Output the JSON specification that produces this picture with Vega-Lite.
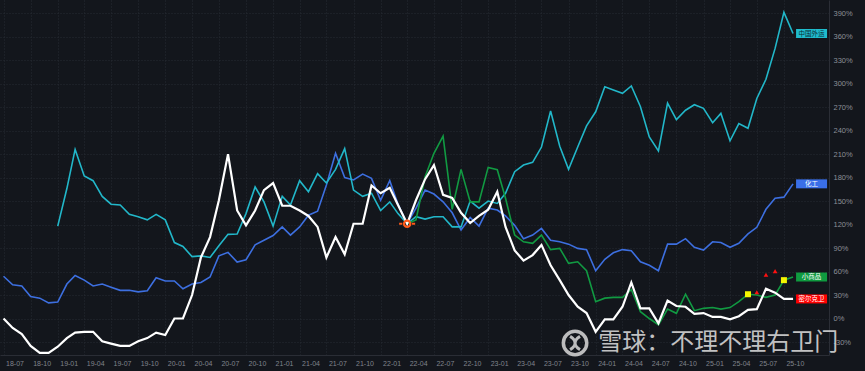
{
  "$schema": "https://vega.github.io/schema/vega-lite/v6.json",
  "width": 829,
  "height": 355,
  "autosize": {"type": "none"},
  "padding": {"left": 0, "top": 0, "right": 36, "bottom": 16},
  "background": "#13161c",
  "config": {
    "view": {"stroke": null},
    "font": "Liberation Sans"
  },
  "datasets": {
    "series": [
      {"d":"2018-07-01","化工":54,"密尔克卫":0},
      {"d":"2018-08-01","化工":43,"密尔克卫":-12},
      {"d":"2018-09-01","化工":41.5,"密尔克卫":-20},
      {"d":"2018-10-01","化工":28,"密尔克卫":-35},
      {"d":"2018-11-01","化工":26,"密尔克卫":-44},
      {"d":"2018-12-01","化工":20,"密尔克卫":-44},
      {"d":"2019-01-01","中国外运":118,"化工":21,"密尔克卫":-36},
      {"d":"2019-02-01","中国外运":166,"化工":44,"密尔克卫":-25},
      {"d":"2019-03-01","中国外运":216,"化工":55,"密尔克卫":-18},
      {"d":"2019-04-01","中国外运":182,"化工":49,"密尔克卫":-17},
      {"d":"2019-05-01","中国外运":176,"化工":41.5,"密尔克卫":-17},
      {"d":"2019-06-01","中国外运":156,"化工":44,"密尔克卫":-29},
      {"d":"2019-07-01","中国外运":146,"化工":40,"密尔克卫":-32},
      {"d":"2019-08-01","中国外运":145,"化工":36,"密尔克卫":-35},
      {"d":"2019-09-01","中国外运":133,"化工":36,"密尔克卫":-35},
      {"d":"2019-10-01","中国外运":130,"化工":34,"密尔克卫":-29},
      {"d":"2019-11-01","中国外运":126,"化工":35.5,"密尔克卫":-25},
      {"d":"2019-12-01","中国外运":133,"化工":52,"密尔克卫":-18},
      {"d":"2020-01-01","中国外运":126,"化工":48,"密尔克卫":-21},
      {"d":"2020-02-01","中国外运":97,"化工":48,"密尔克卫":0},
      {"d":"2020-03-01","中国外运":92,"化工":38,"密尔克卫":0},
      {"d":"2020-04-01","中国外运":79,"化工":44,"密尔克卫":30},
      {"d":"2020-05-01","中国外运":80,"化工":46,"密尔克卫":78},
      {"d":"2020-06-01","中国外运":78,"化工":53,"密尔克卫":104},
      {"d":"2020-07-01","中国外运":93,"化工":80,"密尔克卫":151},
      {"d":"2020-08-01","中国外运":107.5,"化工":84.5,"密尔克卫":210},
      {"d":"2020-09-01","中国外运":108,"化工":72,"密尔克卫":138},
      {"d":"2020-10-01","中国外运":134,"化工":75,"密尔克卫":119},
      {"d":"2020-11-01","中国外运":168,"化工":94,"密尔克卫":138},
      {"d":"2020-12-01","中国外运":149,"化工":100,"密尔克卫":164},
      {"d":"2021-01-01","中国外运":118,"化工":106,"密尔克卫":173},
      {"d":"2021-02-01","中国外运":156,"化工":117,"密尔克卫":144},
      {"d":"2021-03-01","中国外运":145,"化工":106.6,"密尔克卫":144},
      {"d":"2021-04-01","中国外运":176,"化工":117,"密尔克卫":138},
      {"d":"2021-05-01","中国外运":162,"化工":132,"密尔克卫":131},
      {"d":"2021-06-01","中国外运":185,"化工":137,"密尔克卫":117},
      {"d":"2021-07-01","中国外运":173,"化工":170.5,"密尔克卫":78},
      {"d":"2021-08-01","中国外运":190.5,"化工":211,"密尔克卫":104},
      {"d":"2021-09-01","中国外运":217,"化工":180,"密尔克卫":82},
      {"d":"2021-10-01","中国外运":164,"化工":177,"密尔克卫":121},
      {"d":"2021-11-01","中国外运":156,"化工":184.5,"密尔克卫":121},
      {"d":"2021-12-01","中国外运":160,"化工":179,"密尔克卫":170},
      {"d":"2022-01-01","中国外运":138,"化工":151,"密尔克卫":160},
      {"d":"2022-02-01","中国外运":149,"化工":176,"密尔克卫":167},
      {"d":"2022-03-01","中国外运":134,"化工":146,"密尔克卫":145},
      {"d":"2022-04-01","中国外运":121,"化工":121,"小商品":121,"密尔克卫":121},
      {"d":"2022-05-01","中国外运":130,"化工":141,"小商品":126,"密尔克卫":151},
      {"d":"2022-06-01","中国外运":127,"化工":164,"小商品":181,"密尔克卫":178},
      {"d":"2022-07-01","中国外运":130,"化工":159,"小商品":211,"密尔克卫":196},
      {"d":"2022-08-01","中国外运":130,"化工":149,"小商品":233,"密尔克卫":158},
      {"d":"2022-09-01","中国外运":117,"化工":135,"小商品":139.5,"密尔克卫":154},
      {"d":"2022-10-01","中国外运":117,"化工":113,"小商品":190.5,"密尔克卫":135},
      {"d":"2022-11-01","中国外运":150,"化工":129,"小商品":149,"密尔克卫":122},
      {"d":"2022-12-01","中国外运":141,"化工":118,"小商品":149,"密尔克卫":131},
      {"d":"2023-01-01","中国外运":150,"化工":141,"小商品":193,"密尔克卫":139},
      {"d":"2023-02-01","中国外运":147,"化工":138.6,"小商品":190,"密尔克卫":162},
      {"d":"2023-03-01","中国外运":160,"化工":131,"小商品":153.5,"密尔克卫":117},
      {"d":"2023-04-01","中国外运":187.5,"化工":119,"小商品":106.6,"密尔克卫":87},
      {"d":"2023-05-01","中国外运":196,"化工":102,"小商品":98,"密尔克卫":74},
      {"d":"2023-06-01","中国外运":199.5,"化工":106.6,"小商品":96,"密尔克卫":81},
      {"d":"2023-07-01","中国外运":219,"化工":115,"小商品":106.6,"密尔克卫":94},
      {"d":"2023-08-01","中国外运":265,"化工":100,"小商品":88,"密尔克卫":68},
      {"d":"2023-09-01","中国外运":220,"化工":98,"小商品":89.6,"密尔克卫":49},
      {"d":"2023-10-01","中国外运":190.5,"化工":95,"小商品":70.5,"密尔克卫":30},
      {"d":"2023-11-01","中国外运":219,"化工":89.6,"小商品":72.5,"密尔克卫":15},
      {"d":"2023-12-01","中国外运":246,"化工":88,"小商品":61,"密尔克卫":7},
      {"d":"2024-01-01","中国外运":264,"化工":61,"小商品":21.5,"密尔克卫":-17},
      {"d":"2024-02-01","中国外运":296,"化工":75.6,"小商品":26,"密尔克卫":-1},
      {"d":"2024-03-01","中国外运":292,"化工":84,"小商品":27,"密尔克卫":-1},
      {"d":"2024-04-01","中国外运":287.6,"化工":88,"小商品":27,"密尔克卫":15},
      {"d":"2024-05-01","中国外运":297,"化工":86.6,"小商品":37,"密尔克卫":46},
      {"d":"2024-06-01","中国外运":270.5,"化工":72.5,"小商品":8.7,"密尔克卫":13},
      {"d":"2024-07-01","中国外运":232,"化工":68,"小商品":0,"密尔克卫":13},
      {"d":"2024-08-01","中国外运":214,"化工":61,"小商品":-8,"密尔克卫":-6},
      {"d":"2024-09-01","中国外运":275,"化工":95,"小商品":12,"密尔克卫":23},
      {"d":"2024-10-01","中国外运":254,"化工":95,"小商品":6.6,"密尔克卫":16},
      {"d":"2024-11-01","中国外运":266,"化工":102,"小商品":31,"密尔克卫":15},
      {"d":"2024-12-01","中国外运":273,"化工":91,"小商品":10,"密尔克卫":6},
      {"d":"2025-01-01","中国外运":268.5,"化工":87.5,"小商品":13,"密尔克卫":7},
      {"d":"2025-02-01","中国外运":250,"化工":98,"小商品":14,"密尔克卫":2},
      {"d":"2025-03-01","中国外运":262,"化工":97,"小商品":12,"密尔克卫":2},
      {"d":"2025-04-01","中国外运":227,"化工":91,"小商品":14,"密尔克卫":-1},
      {"d":"2025-05-01","中国外运":249,"化工":96,"小商品":21.5,"密尔克卫":3},
      {"d":"2025-06-01","中国外运":243,"化工":108,"小商品":31,"密尔克卫":11},
      {"d":"2025-07-01","中国外运":281,"化工":116.5,"小商品":30,"密尔克卫":12},
      {"d":"2025-08-01","中国外运":305.5,"化工":139.5,"小商品":27,"密尔克卫":38},
      {"d":"2025-09-01","中国外运":345,"化工":153.5,"小商品":30,"密尔克卫":33},
      {"d":"2025-10-01","中国外运":391,"化工":155,"小商品":49,"密尔克卫":25},
      {"d":"2025-11-01","中国外运":364,"化工":172,"小商品":53,"密尔克卫":25}
    ],
    "labels": [
      {"d":"2025-11-01","s":"中国外运","v":364},
      {"d":"2025-11-01","s":"化工","v":172},
      {"d":"2025-11-01","s":"小商品","v":53},
      {"d":"2025-11-01","s":"密尔克卫","v":25}
    ],
    "squares": [
      {"d":"2025-06-01","v":31},
      {"d":"2025-10-01","v":49}
    ],
    "triangles": [
      {"d":"2025-07-01","v":33.5},
      {"d":"2025-08-01","v":56},
      {"d":"2025-09-01","v":60.5}
    ],
    "base": [
      {"d":"2022-04-01","v":121}
    ],
    "watermark": [
      {"t":"雪球：不理不理右卫门"}
    ]
  },
  "layer": [
    {
      "encoding": {
        "x": {
          "field": "d",
          "type": "temporal",
          "scale": {"domain": [{"year":2018,"month":6,"date":19},{"year":2026,"month":3,"date":3}]},
          "axis": {
            "title": null,
            "values": [
              {"year":2018,"month":7,"date":1},{"year":2018,"month":10,"date":1},
              {"year":2019,"month":1,"date":1},{"year":2019,"month":4,"date":1},{"year":2019,"month":7,"date":1},{"year":2019,"month":10,"date":1},
              {"year":2020,"month":1,"date":1},{"year":2020,"month":4,"date":1},{"year":2020,"month":7,"date":1},{"year":2020,"month":10,"date":1},
              {"year":2021,"month":1,"date":1},{"year":2021,"month":4,"date":1},{"year":2021,"month":7,"date":1},{"year":2021,"month":10,"date":1},
              {"year":2022,"month":1,"date":1},{"year":2022,"month":4,"date":1},{"year":2022,"month":7,"date":1},{"year":2022,"month":10,"date":1},
              {"year":2023,"month":1,"date":1},{"year":2023,"month":4,"date":1},{"year":2023,"month":7,"date":1},{"year":2023,"month":10,"date":1},
              {"year":2024,"month":1,"date":1},{"year":2024,"month":4,"date":1},{"year":2024,"month":7,"date":1},{"year":2024,"month":10,"date":1},
              {"year":2025,"month":1,"date":1},{"year":2025,"month":4,"date":1},{"year":2025,"month":7,"date":1},{"year":2025,"month":10,"date":1}
            ],
            "format": "%y-%m",
            "labelAlign": "left",
            "labelBaseline": "top",
            "labelOffset": 2,
            "labelPadding": 4,
            "labelFontSize": 7,
            "labelColor": "#80848c",
            "labelFlush": false,
            "labelOverlap": false,
            "grid": true,
            "gridColor": "#262a33",
            "gridDash": [1, 2],
            "ticks": false,
            "domain": true,
            "domainColor": "#2a2d35"
          }
        },
        "y": {
          "field": "v",
          "type": "quantitative",
          "scale": {"domain": [-46.6, 406.8], "nice": false, "zero": false},
          "axis": {
            "orient": "right",
            "title": null,
            "values": [-30, 0, 30, 60, 90, 120, 150, 180, 210, 240, 270, 300, 330, 360, 390],
            "labelExpr": "datum.value + '%'",
            "labelFontSize": 7.5,
            "labelColor": "#8b8f97",
            "labelPadding": 4,
            "labelOverlap": false,
            "ticks": false,
            "grid": true,
            "gridColor": "#262a33",
            "gridDash": [1, 2],
            "domain": true,
            "domainColor": "#2b2e36"
          }
        }
      },
      "layer": [
        {
          "data": {"name": "series"},
          "transform": [
            {"fold": ["中国外运", "化工", "小商品"], "as": ["s", "v"]},
            {"filter": "isValid(datum.v)"}
          ],
          "mark": {"type": "line", "strokeWidth": 1.6, "interpolate": "linear"},
          "encoding": {
            "color": {
              "field": "s",
              "type": "nominal",
              "legend": null,
              "scale": {"domain": ["中国外运", "化工", "小商品", "密尔克卫"], "range": ["#22b7c9", "#3d6fe0", "#119a42", "#ffffff"]}
            }
          }
        },
        {
          "data": {"name": "series"},
          "transform": [
            {"fold": ["密尔克卫"], "as": ["s", "v"]},
            {"filter": "isValid(datum.v)"}
          ],
          "mark": {"type": "line", "strokeWidth": 2.2, "color": "#ffffff"}
        },
        {
          "data": {"name": "base"},
          "mark": {"type": "point", "shape": "circle", "size": 40, "filled": false, "stroke": "#ff5a1a", "strokeWidth": 2.2, "opacity": 1}
        },
        {
          "data": {"name": "base"},
          "mark": {"type": "point", "shape": "M-1,0L-0.6,0M0.6,0L1,0", "size": 256, "filled": false, "stroke": "#ff5a1a", "strokeWidth": 2, "opacity": 1}
        },
        {
          "data": {"name": "squares"},
          "mark": {"type": "point", "shape": "square", "size": 36, "filled": true, "color": "#f5f500", "opacity": 1}
        },
        {
          "data": {"name": "triangles"},
          "mark": {"type": "point", "shape": "triangle-up", "size": 22, "filled": true, "color": "#ff1010", "opacity": 1}
        },
        {
          "data": {"name": "labels"},
          "mark": {"type": "point", "shape": "M-1,-0.29L1,-0.29L1,0.29L-1,0.29Z", "size": 961, "filled": true, "opacity": 1, "xOffset": 18.5, "strokeWidth": 0},
          "encoding": {
            "fill": {
              "field": "s",
              "type": "nominal",
              "legend": null,
              "scale": {"domain": ["中国外运", "化工", "小商品", "密尔克卫"], "range": ["#1fbccd", "#3a6fe8", "#0f9a3f", "#ff0000"]}
            }
          }
        },
        {
          "data": {"name": "labels"},
          "mark": {"type": "text", "xOffset": 18.5, "fontSize": 6.5, "font": "Noto Sans CJK SC", "align": "center", "baseline": "middle"},
          "encoding": {
            "text": {"field": "s"},
            "color": {"condition": {"test": "datum.s === '中国外运'", "value": "#0c2a33"}, "value": "#ffffff"}
          }
        }
      ]
    },
    {
      "encoding": {
        "x": {
          "datum": 1698019200000,
          "type": "temporal",
          "axis": {
            "title": null,
            "values": [
              {"year":2018,"month":7,"date":1},{"year":2018,"month":10,"date":1},
              {"year":2019,"month":1,"date":1},{"year":2019,"month":4,"date":1},{"year":2019,"month":7,"date":1},{"year":2019,"month":10,"date":1},
              {"year":2020,"month":1,"date":1},{"year":2020,"month":4,"date":1},{"year":2020,"month":7,"date":1},{"year":2020,"month":10,"date":1},
              {"year":2021,"month":1,"date":1},{"year":2021,"month":4,"date":1},{"year":2021,"month":7,"date":1},{"year":2021,"month":10,"date":1},
              {"year":2022,"month":1,"date":1},{"year":2022,"month":4,"date":1},{"year":2022,"month":7,"date":1},{"year":2022,"month":10,"date":1},
              {"year":2023,"month":1,"date":1},{"year":2023,"month":4,"date":1},{"year":2023,"month":7,"date":1},{"year":2023,"month":10,"date":1},
              {"year":2024,"month":1,"date":1},{"year":2024,"month":4,"date":1},{"year":2024,"month":7,"date":1},{"year":2024,"month":10,"date":1},
              {"year":2025,"month":1,"date":1},{"year":2025,"month":4,"date":1},{"year":2025,"month":7,"date":1},{"year":2025,"month":10,"date":1}
            ],
            "format": "%y-%m",
            "labelAlign": "left",
            "labelBaseline": "top",
            "labelOffset": 2,
            "labelPadding": 4,
            "labelFontSize": 7,
            "labelColor": "#80848c",
            "labelFlush": false,
            "labelOverlap": false,
            "grid": true,
            "gridColor": "#262a33",
            "gridDash": [1, 2],
            "ticks": false,
            "domain": true,
            "domainColor": "#2a2d35"
          }
        },
        "y": {
          "datum": -31.3,
          "type": "quantitative",
          "axis": {
            "orient": "right",
            "title": null,
            "values": [-30, 0, 30, 60, 90, 120, 150, 180, 210, 240, 270, 300, 330, 360, 390],
            "labelExpr": "datum.value + '%'",
            "labelFontSize": 7.5,
            "labelColor": "#8b8f97",
            "labelPadding": 4,
            "labelOverlap": false,
            "ticks": false,
            "grid": true,
            "gridColor": "#262a33",
            "gridDash": [1, 2],
            "domain": true,
            "domainColor": "#2b2e36"
          }
        }
      },
      "layer": [
        {
          "data": {"name": "watermark"},
          "mark": {"type": "point", "shape": "circle", "size": 548, "filled": false, "stroke": "#cfcfcf", "strokeWidth": 3.5, "opacity": 0.9}
        },
        {
          "data": {"name": "watermark"},
          "mark": {"type": "point", "shape": "M-0.45,-0.6C0.15,-0.25,0.15,0.25,-0.45,0.6M0.45,-0.6C-0.15,-0.25,-0.15,0.25,0.45,0.6", "size": 484, "filled": false, "stroke": "#cfcfcf", "strokeWidth": 3, "opacity": 0.9}
        },
        {
          "data": {"name": "watermark"},
          "mark": {"type": "text", "font": "Noto Sans CJK SC", "fontSize": 24, "align": "center", "baseline": "middle", "color": "#d4d4d4", "opacity": 0.9},
          "encoding": {
            "x": {"datum": 1740009600000, "type": "temporal"},
            "text": {"field": "t"}
          }
        }
      ]
    }
  ]
}
